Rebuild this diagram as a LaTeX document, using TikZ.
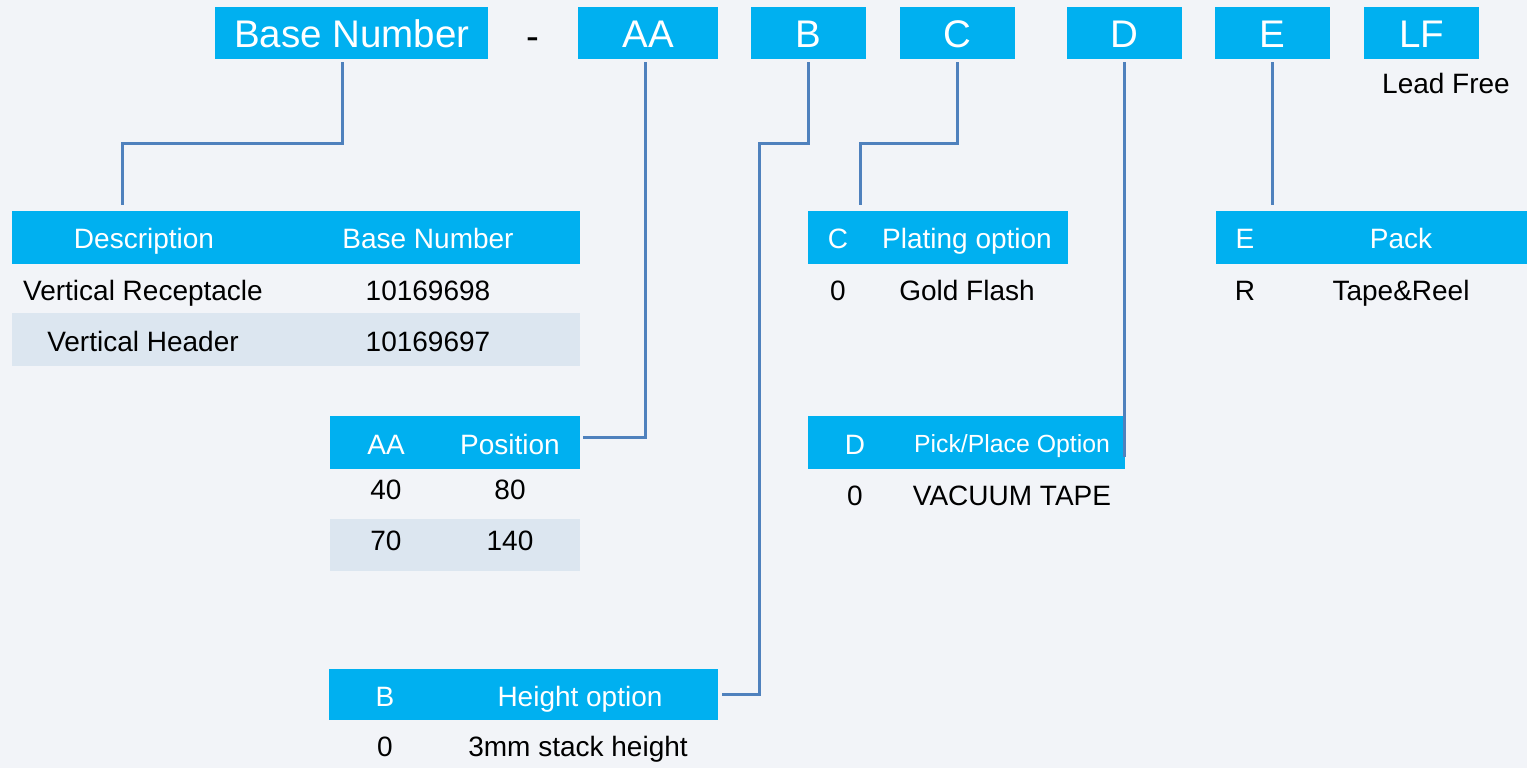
\documentclass[tikz,border=0pt]{standalone}
\usepackage{fontspec}
\setmainfont{Liberation Sans}
\definecolor{bgc}{RGB}{242,244,248}
\definecolor{hdrc}{RGB}{0,176,240}
\definecolor{rowc}{RGB}{220,230,240}
\definecolor{linec}{RGB}{79,129,189}
\tikzset{
  topbox/.style={rectangle, fill=hdrc, inner sep=0pt, minimum height=52pt},
  toptxt/.style={text=white, inner sep=0pt, text height=27.6pt, text depth=0pt, font=\fontsize{38.5}{42}\selectfont},
  hdrbar/.style={rectangle, fill=hdrc, inner sep=0pt},
  shade/.style={rectangle, fill=rowc, inner sep=0pt},
  htxt/.style={text=white, inner sep=0pt, text height=20pt, text depth=0pt, font=\fontsize{28}{32}\selectfont},
  htxts/.style={text=white, inner sep=0pt, text height=17.8pt, text depth=0pt, font=\fontsize{24.8}{28}\selectfont},
  ctxt/.style={text=black, inner sep=0pt, text height=20pt, text depth=0pt, font=\fontsize{28}{32}\selectfont},
  conn/.style={draw=linec, line width=3pt},
}
\begin{document}
\begin{tikzpicture}[x=1pt,y=-1pt]
\fill[bgc] (0,0) rectangle (1527,768);
\useasboundingbox (0,0) rectangle (1527,768);
% top boxes
\node[topbox, minimum width=273pt] (bn) at (351.5,33) {};
\node[toptxt] (bntx) at (352,34) {Base Number};
\node[text=black, inner sep=0pt, font=\fontsize{38.5}{42}\selectfont] (dash) at (533,44) {-};
\node[topbox, minimum width=140pt] (aat) at (648,33) {};
\node[toptxt] (aatx) at (648,34) {AA};
\node[topbox, minimum width=115pt] (bt) at (808.5,33) {};
\node[toptxt] (btx) at (808.5,34) {B};
\node[topbox, minimum width=115pt] (ct) at (957.5,33) {};
\node[toptxt] (ctx) at (957.5,34) {C};
\node[topbox, minimum width=115pt] (dt) at (1124.5,33) {};
\node[toptxt] (dtx) at (1124.5,34) {D};
\node[topbox, minimum width=115pt] (et) at (1272.5,33) {};
\node[toptxt] (etx) at (1272.5,34) {E};
\node[topbox, minimum width=115pt] (lft) at (1421.5,33) {};
\node[toptxt] (lftx) at (1421.5,34) {LF};
\node[ctxt] (lead) at (1446,84) {Lead Free};
% description table
\node[hdrbar, minimum width=568pt, minimum height=53pt] (dhdr) at (296,237.5) {};
\node[shade, minimum width=568pt, minimum height=53pt] (drow2) at (296,339.5) {};
\node[htxt] (dh1) at (144,238) {Description};
\node[htxt] (dh2) at (428,238) {Base Number};
\node[ctxt] (d11) at (143,290) {Vertical Receptacle};
\node[ctxt] (d12) at (428,290) {10169698};
\node[ctxt] (d21) at (143,341) {Vertical Header};
\node[ctxt] (d22) at (428,341) {10169697};
% AA table
\node[hdrbar, minimum width=250pt, minimum height=53pt] (aahdr) at (455,442.5) {};
\node[shade, minimum width=250pt, minimum height=52pt] (aarow2) at (455,545) {};
\node[htxt] (aah1) at (386,444) {AA};
\node[htxt] (aah2) at (510,444) {Position};
\node[ctxt] (a11) at (386,489) {40};
\node[ctxt] (a12) at (510,489) {80};
\node[ctxt] (a21) at (386,540) {70};
\node[ctxt] (a22) at (510,540) {140};
% B table
\node[hdrbar, minimum width=389pt, minimum height=51pt] (bhdr) at (523.5,694.5) {};
\node[htxt] (bh1) at (385,696) {B};
\node[htxt] (bh2) at (580,696) {Height option};
\node[ctxt] (b11) at (385,746) {0};
\node[ctxt] (b12) at (578,746) {3mm stack height};
% C table
\node[hdrbar, minimum width=260pt, minimum height=53pt] (chdr) at (938,237.5) {};
\node[htxt] (ch1) at (838,238) {C};
\node[htxt] (ch2) at (967,238) {Plating option};
\node[ctxt] (c11) at (838,290) {0};
\node[ctxt] (c12) at (967,290) {Gold Flash};
% D table
\node[hdrbar, minimum width=317pt, minimum height=53pt] (dphdr) at (966.5,442.5) {};
\node[htxt] (dp1) at (855,444) {D};
\node[htxts] (dp2) at (1012,444) {Pick/Place Option};
\node[ctxt] (dp11) at (855,495) {0};
\node[ctxt] (dp12) at (1012,495) {VACUUM TAPE};
% E table
\node[hdrbar, minimum width=311pt, minimum height=53pt] (ehdr) at (1371.5,237.5) {};
\node[htxt] (eh1) at (1245,238) {E};
\node[htxt] (eh2) at (1401,238) {Pack};
\node[ctxt] (e11) at (1245,290) {R};
\node[ctxt] (e12) at (1401,290) {Tape\&Reel};
% connectors
\coordinate (bnj1) at (342,143);
\coordinate (bnj2) at (122,143);
\draw[conn, shorten <=3pt, shorten >=6pt] ([xshift=-9.5pt]bn.south) -- (bnj1) -- (bnj2) -- (bnj2 |- dhdr.north);
\draw[conn, shorten <=3pt, shorten >=3pt] ([xshift=-3pt]aat.south) |- ([yshift=5.5pt]aahdr.east);
\coordinate (bj) at (759,143);
\draw[conn, shorten <=3pt, shorten >=4pt] (bt.south) |- (bj) |- (bhdr.east);
\coordinate (cj) at (860,143);
\draw[conn, shorten <=3pt, shorten >=6pt] (ct.south) |- (cj) -- (cj |- chdr.north);
\draw[conn, shorten <=3pt, shorten >=-14.5pt] ([xshift=-0.5pt]dt.south) -- ([xshift=-0.5pt]dt.south |- dphdr.east);
\draw[conn, shorten <=3pt, shorten >=6pt] ([xshift=-0.5pt]et.south) -- ([xshift=-0.5pt]et.south |- ehdr.north);
\end{tikzpicture}
\end{document}
